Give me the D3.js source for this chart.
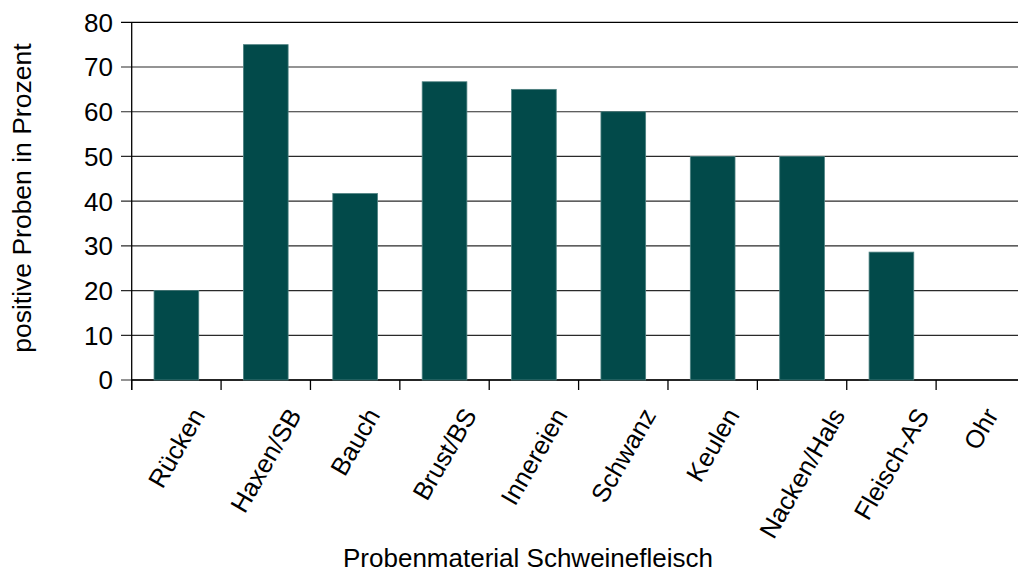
<!DOCTYPE html>
<html>
<head>
<meta charset="utf-8">
<script src="https://cdn.jsdelivr.net/npm/d3@7"></script>
<style>
  html, body { margin: 0; padding: 0; background: #fff; }
  svg { display: block; font-family: "Liberation Sans", Arial, sans-serif; }
</style>
</head>
<body>
<svg id="chart" width="1018" height="573"></svg>
<script>
// Anteil positiver Proben je Probenmaterial (Schweinefleisch), in Prozent
const categories = ["Rücken", "Haxen/SB", "Bauch", "Brust/BS", "Innereien", "Schwanz", "Keulen", "Nacken/Hals", "Fleisch-AS", "Ohr"];
const values = [20, 75, 41.7, 66.7, 65, 60, 50, 50, 28.6, 0];
const yTicks = [0, 10, 20, 30, 40, 50, 60, 70, 80];
const yTitle = "positive Proben in Prozent";
const xTitle = "Probenmaterial Schweinefleisch";

const svg = d3.select("#chart");
const plotLeft = 131.7, plotRight = 1025.5, plotTop = 22.3, plotBottom = 380;
const barColor = "#024a4a";

const x = d3.scaleBand().domain(categories).range([plotLeft, plotRight]).paddingInner(0.5).paddingOuter(0.25);
const y = d3.scaleLinear().domain([0, 80]).range([plotBottom, plotTop]);

// horizontal grid lines with outside ticks
svg.append("g").selectAll("line").data(yTicks).join("line")
  .attr("x1", 121).attr("x2", 1018)
  .attr("y1", d => y(d)).attr("y2", d => y(d))
  .attr("stroke", d => d === 80 ? "#000" : "#2a2a2a")
  .attr("stroke-width", 1.2);

// y tick labels
svg.append("g").selectAll("text").data(yTicks).join("text")
  .attr("x", 113).attr("y", d => y(d))
  .attr("dy", "0.36em")
  .attr("text-anchor", "end")
  .attr("font-size", 26)
  .attr("fill", "#000")
  .text(d => d);

// y axis line
svg.append("line")
  .attr("x1", plotLeft).attr("x2", plotLeft)
  .attr("y1", plotTop).attr("y2", plotBottom + 10)
  .attr("stroke", "#000").attr("stroke-width", 1.3);

// x axis line and category boundary ticks
svg.append("line")
  .attr("x1", plotLeft).attr("x2", 1018)
  .attr("y1", plotBottom).attr("y2", plotBottom)
  .attr("stroke", "#000").attr("stroke-width", 1.3);
const step = x.step();
const bounds = d3.range(categories.length + 1).map(i => plotLeft + i * step);
svg.append("g").selectAll("line").data(bounds).join("line")
  .attr("x1", d => d).attr("x2", d => d)
  .attr("y1", plotBottom).attr("y2", plotBottom + 10)
  .attr("stroke", "#000").attr("stroke-width", 1.3);

// bars
svg.append("g").selectAll("rect").data(values).join("rect")
  .attr("x", (d, i) => x(categories[i]))
  .attr("width", x.bandwidth())
  .attr("y", d => y(d))
  .attr("height", d => y(0) - y(d))
  .attr("fill", barColor)
  .attr("stroke", "#4d8080")
  .attr("stroke-width", 0.8);

// rotated category labels, bounding box centred under each category, top aligned
const labelTop = 406;
const sin60 = Math.sin(Math.PI / 3), cos60 = Math.cos(Math.PI / 3);
svg.append("g").selectAll("text").data(categories).join("text")
  .attr("font-size", 25.5)
  .attr("fill", "#000")
  .attr("text-anchor", "middle")
  .attr("dy", "0.35em")
  .text(d => d)
  .each(function(d) {
    const L = this.getComputedTextLength();
    const h = 18;
    const cx = x(d) + x.bandwidth() / 2;
    const cy = labelTop + (L * sin60 + h * cos60) / 2;
    d3.select(this).attr("transform", `translate(${cx},${cy}) rotate(-60)`);
  });

// axis titles
svg.append("text")
  .attr("x", 528).attr("y", 567)
  .attr("text-anchor", "middle")
  .attr("font-size", 26)
  .attr("fill", "#000")
  .text(xTitle);

svg.append("text")
  .attr("transform", `translate(31,${(plotTop + plotBottom) / 2 - 3}) rotate(-90)`)
  .attr("text-anchor", "middle")
  .attr("font-size", 26.5)
  .attr("fill", "#000")
  .text(yTitle);
</script>
</body>
</html>
